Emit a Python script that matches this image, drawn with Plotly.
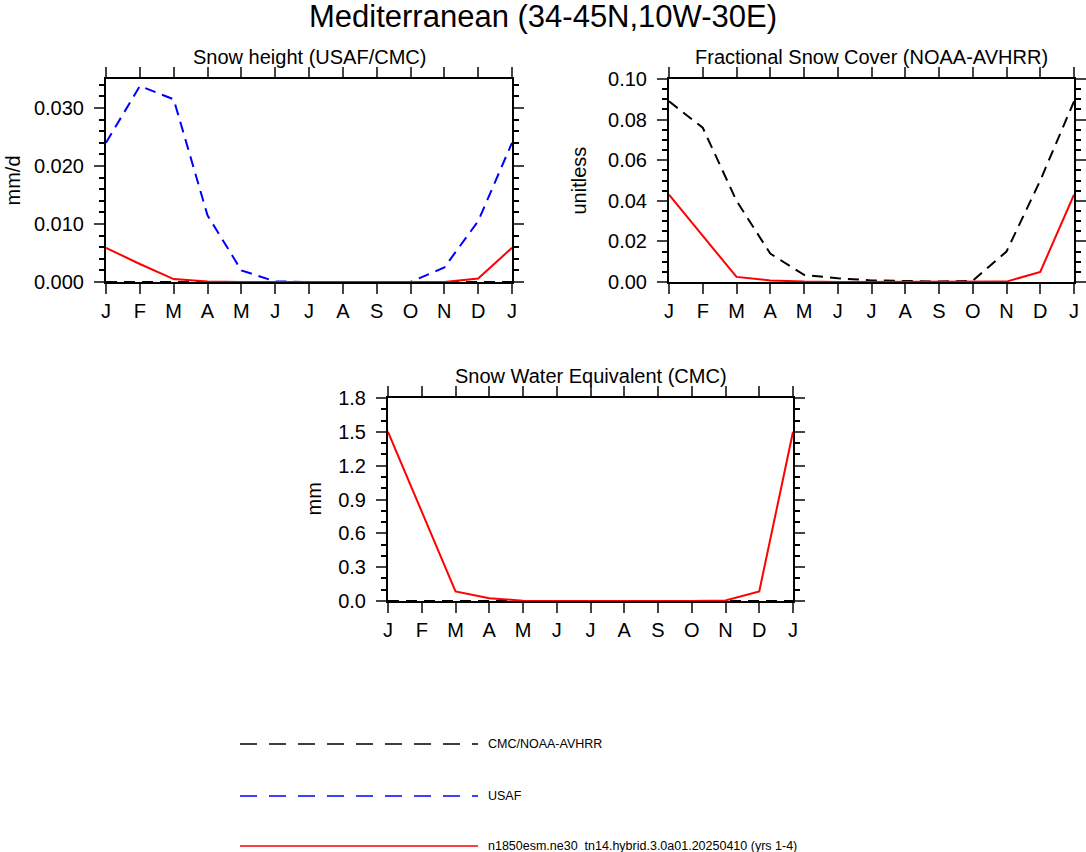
import plotly.graph_objects as go

months = ["J", "F", "M", "A", "M", "J", "J", "A", "S", "O", "N", "D", "J"]
xpos = list(range(13))

# snow height (mm/d)
usaf_height = [0.0240, 0.0338, 0.0315, 0.0115, 0.0020, 0.0001, 0.0, 0.0, 0.0, 0.0, 0.0025, 0.0105, 0.0240]
cmc_height = [0.0] * 13
model_height = [0.0059, 0.0031, 0.0005, 0.0001, 0.0, 0.0, 0.0, 0.0, 0.0, 0.0, 0.0, 0.0006, 0.0059]

# fractional snow cover (unitless)
noaa_cover = [0.089, 0.076, 0.040, 0.014, 0.0035, 0.0018, 0.0008, 0.0004, 0.0002, 0.0006, 0.015, 0.050, 0.089]
model_cover = [0.043, 0.023, 0.0025, 0.0008, 0.0002, 0.0, 0.0, 0.0, 0.0, 0.0, 0.0002, 0.005, 0.043]

# snow water equivalent (mm)
cmc_swe = [0.0] * 13
model_swe = [1.50, 0.80, 0.085, 0.025, 0.003, 0.001, 0.0, 0.0, 0.0, 0.0, 0.005, 0.085, 1.50]

model_name = "n1850esm.ne30_tn14.hybrid.3.0a01.20250410 (yrs 1-4)"

W, H = 1086, 852
FONT = "Liberation Sans, Arial, Helvetica, sans-serif"


def px(x):
    return x / W


def py(y):
    return 1 - y / H


fig = go.Figure()

panels = [
    # (xaxis, yaxis, left, right, top, bottom, yrange, dtick, minor, fmt, ytitle, ytitle_x, title)
    ("x", "y", 106, 512, 79, 282, [0, 0.035], 0.01, 0.002, ".3f", "mm/d", 12, "Snow height (USAF/CMC)"),
    ("x2", "y2", 669, 1074, 79, 282, [0, 0.1], 0.02, 0.005, ".2f", "unitless", 578, "Fractional Snow Cover (NOAA-AVHRR)"),
    ("x3", "y3", 388, 793, 398, 601, [0, 1.8], 0.3, 0.1, ".1f", "mm", 313, "Snow Water Equivalent (CMC)"),
]

series = [
    [(cmc_height, "black", "11px,7px"), (usaf_height, "blue", "11px,7px"), (model_height, "red", "solid")],
    [(noaa_cover, "black", "11px,7px"), (model_cover, "red", "solid")],
    [(cmc_swe, "black", "11px,7px"), (model_swe, "red", "solid")],
]

layout = dict(
    width=W, height=H,
    margin=dict(l=0, r=0, t=0, b=0, autoexpand=False),
    paper_bgcolor="white", plot_bgcolor="white",
    showlegend=False,
    font=dict(family=FONT, color="black", size=20),
)

annotations = [dict(text="Mediterranean (34-45N,10W-30E)", x=0.5, y=py(16), xref="paper", yref="paper",
                    showarrow=False, font=dict(size=31), xanchor="center", yanchor="middle")]
shapes = []

for (xa, ya, l, r, t, b, yr, dt, mn, fmt, ytitle, tx, title), sers in zip(panels, series):
    for vals, col, dash in sers:
        fig.add_trace(go.Scatter(x=xpos, y=vals, mode="lines", xaxis=xa, yaxis=ya,
                                 line=dict(color=col, width=2, dash=dash)))
    xkey = "xaxis" + xa[1:]
    ykey = "yaxis" + ya[1:]
    layout[xkey] = dict(
        domain=[px(l), px(r)], range=[0, 12], anchor=ya, automargin=False,
        tickvals=xpos, ticktext=months, ticks="outside", ticklen=10, tickwidth=2,
        showline=True, linecolor="black", linewidth=2, mirror="allticks",
        showgrid=False, zeroline=False, tickfont=dict(size=20),
    )
    layout[ykey] = dict(
        domain=[py(b), py(t)], range=yr, anchor=xa, automargin=False,
        dtick=dt, tick0=0, tickformat=fmt,
        ticks="outside", ticklen=10, tickwidth=2, ticklabelstandoff=6,
        minor=dict(dtick=mn, ticks="outside", ticklen=5, tickwidth=1.5, tickcolor="black"),
        showline=True, linecolor="black", linewidth=2, mirror="allticks",
        showgrid=False, zeroline=False, tickfont=dict(size=20),
    )
    annotations.append(dict(text=title, x=px((l + r) / 2), y=py(t - 22), xref="paper", yref="paper",
                            showarrow=False, font=dict(size=20), xanchor="center", yanchor="middle"))
    annotations.append(dict(text=ytitle, x=px(tx), y=py((t + b) / 2), xref="paper", yref="paper",
                            showarrow=False, font=dict(size=20), textangle=-90,
                            xanchor="center", yanchor="middle"))

# legend drawn below the panels
legend_items = [("CMC/NOAA-AVHRR", "black", "17px,12px"), ("USAF", "blue", "17px,12px"), (model_name, "red", "solid")]
legend_y = [744, 796, 846]
for (name, col, dash), ly in zip(legend_items, legend_y):
    shapes.append(dict(type="line", xref="paper", yref="paper", x0=px(240), x1=px(478),
                       y0=py(ly), y1=py(ly), line=dict(color=col, width=1.5, dash=dash)))
    annotations.append(dict(text=name, x=px(486), y=py(ly), xref="paper", yref="paper",
                            showarrow=False, font=dict(size=12.5), xanchor="left", yanchor="middle"))

layout["annotations"] = annotations
layout["shapes"] = shapes

fig.update_layout(**layout)
# drop the default page margin so the figure sits at the window corner
fig.write_html("out.html", config={"displayModeBar": False},
               post_script="document.body.style.margin='0';")
